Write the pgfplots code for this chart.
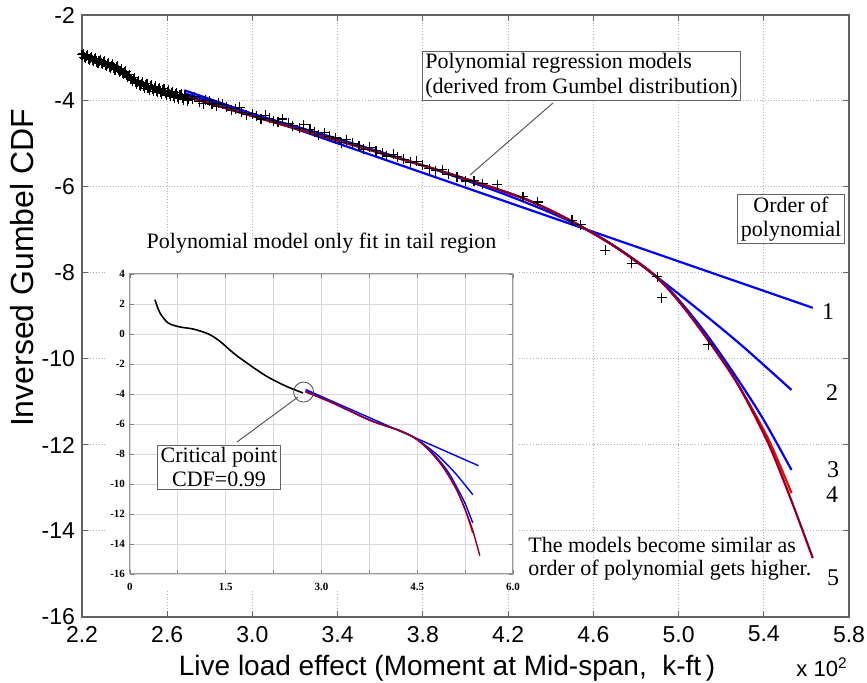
\documentclass[border=0pt]{standalone}
\usepackage{pgfplots}
\pgfplotsset{compat=1.18}
\usepackage{fontspec}
\setmainfont{Liberation Serif}
\setsansfont{Liberation Sans}
\newfontfamily\arial{Liberation Sans}
\definecolor{maroon}{RGB}{135,0,45}
\definecolor{framegray}{RGB}{100,100,100}

\pgfplotstableread{
x y
2.20 -2.92
2.21 -2.98
2.22 -2.95
2.23 -3.02
2.24 -2.99
2.25 -3.05
2.26 -3.03
2.27 -3.10
2.28 -3.06
2.29 -3.12
2.30 -3.10
2.31 -3.16
2.32 -3.13
2.33 -3.20
2.34 -3.18
2.35 -3.24
2.36 -3.22
2.37 -3.29
2.38 -3.30
2.39 -3.34
2.40 -3.33
2.41 -3.40
2.42 -3.43
2.43 -3.48
2.44 -3.50
2.45 -3.55
2.46 -3.57
2.47 -3.62
2.48 -3.60
2.49 -3.66
2.50 -3.63
2.51 -3.70
2.52 -3.66
2.53 -3.72
2.54 -3.69
2.55 -3.76
2.56 -3.73
2.57 -3.79
2.58 -3.75
2.59 -3.82
2.60 -3.78
2.61 -3.84
2.62 -3.81
2.63 -3.88
2.64 -3.84
2.65 -3.90
2.66 -3.87
2.67 -3.93
2.68 -3.89
2.70 -3.96
2.205 -2.90
2.215 -3.00
2.225 -2.93
2.235 -3.04
2.245 -2.97
2.255 -3.08
2.265 -3.01
2.275 -3.12
2.285 -3.04
2.295 -3.15
2.305 -3.08
2.315 -3.19
2.325 -3.11
2.335 -3.23
2.345 -3.15
2.355 -3.27
2.365 -3.19
2.375 -3.32
2.385 -3.25
2.395 -3.38
2.405 -3.31
2.415 -3.45
2.425 -3.39
2.435 -3.53
2.445 -3.46
2.455 -3.60
2.465 -3.53
2.475 -3.65
2.485 -3.57
2.495 -3.70
2.505 -3.60
2.515 -3.74
2.525 -3.63
2.535 -3.77
2.545 -3.66
2.555 -3.80
2.565 -3.70
2.575 -3.83
2.585 -3.72
2.595 -3.86
2.605 -3.75
2.615 -3.89
2.625 -3.78
2.635 -3.92
2.645 -3.81
2.655 -3.95
2.665 -3.84
2.675 -3.97
2.685 -3.86
2.695 -3.99
2.72 -3.95
2.73 -3.90
2.75 -4.02
2.77 -4.06
2.78 -3.98
2.80 -3.99
2.81 -4.07
2.83 -4.12
2.84 -4.05
2.86 -4.08
2.88 -4.15
2.90 -4.22
2.92 -4.18
2.94 -4.15
2.95 -4.26
2.97 -4.32
3.00 -4.30
3.02 -4.36
3.04 -4.42
3.06 -4.33
3.08 -4.40
3.10 -4.46
3.12 -4.50
3.14 -4.42
3.17 -4.52
3.19 -4.58
3.22 -4.63
3.24 -4.55
3.27 -4.66
3.29 -4.72
3.31 -4.78
3.34 -4.74
3.36 -4.82
3.39 -4.86
3.42 -4.97
3.44 -4.90
3.47 -4.98
3.50 -5.04
3.52 -5.12
3.55 -5.08
3.58 -5.16
3.61 -5.22
3.63 -5.28
3.66 -5.24
3.68 -5.30
3.71 -5.36
3.74 -5.43
3.77 -5.40
3.80 -5.50
3.83 -5.58
3.86 -5.62
3.89 -5.60
3.92 -5.70
3.96 -5.76
4.00 -5.86
4.04 -5.85
4.08 -5.92
4.15 -5.95
4.27 -6.23
4.34 -6.35
4.50 -6.77
4.54 -6.88
4.655 -7.47
4.78 -7.77
4.90 -8.09
4.92 -8.58
5.14 -9.67
}\obsdata

\pgfplotstableread{
x y
2.68 -3.75
5.63 -8.81
}\ordone

\pgfplotstableread{
x y
2.68 -3.82
3.00 -4.30
3.40 -4.88
3.80 -5.50
4.20 -6.20
4.50 -6.82
4.70 -7.38
4.90 -8.10
5.10 -8.88
5.30 -9.70
5.53 -10.72
}\ordtwo

\pgfplotstableread{
x y
2.68 -3.88
3.00 -4.35
3.40 -4.92
3.80 -5.50
4.10 -5.97
4.30 -6.32
4.50 -6.80
4.70 -7.38
4.88 -8.02
5.00 -8.62
5.13 -9.42
5.275 -10.45
5.40 -11.42
5.53 -12.58
}\ordthree

\pgfplotstableread{
x y
2.68 -3.88
3.00 -4.35
3.40 -4.92
3.80 -5.50
4.10 -5.97
4.30 -6.32
4.50 -6.80
4.70 -7.38
4.88 -8.02
5.00 -8.65
5.13 -9.50
5.275 -10.56
5.42 -11.85
5.53 -13.12
}\ordfour

\pgfplotstableread{
x y
2.68 -3.88
3.00 -4.35
3.40 -4.92
3.80 -5.50
4.10 -5.97
4.30 -6.32
4.50 -6.80
4.70 -7.38
4.88 -8.02
5.00 -8.65
5.13 -9.50
5.275 -10.56
5.42 -11.95
5.53 -13.30
5.63 -14.63
}\ordfive

\begin{document}
\begin{tikzpicture}
\useasboundingbox (-41pt,-33pt) rectangle (392.5pt,308.5pt);
\begin{axis}[
  at={(0,0)}, anchor=south west,
  scale only axis, width=383.5pt, height=301pt,
  xmin=2.2, xmax=5.8, ymin=-16, ymax=-2,
  xtick={2.2,2.6,3.0,3.4,3.8,4.2,4.6,5.0,5.4,5.8},
  xticklabels={2.2,2.6,3.0,3.4,3.8,4.2,4.6,5.0,5.4,5.8},
  ytick={-16,-14,-12,-10,-8,-6,-4,-2},
  yticklabels={-16,-14,-12,-10,-8,-6,-4,-2},
  tick label style={font=\arial\fontsize{11.5}{12}\selectfont},
  xticklabel style={yshift=-1pt},
  grid=major, grid style={densely dotted, gray!60, line width=0.5pt},
  tick align=inside, major tick length=3pt,
  tick style={framegray, line width=0.5pt},
  axis line style={framegray, line width=0.7pt},
  xlabel={Live load effect (Moment at Mid-span,\ \ k-ft\,)},
  xlabel style={font=\arial\fontsize{14}{16}\selectfont, at={(axis description cs:0.476,-0.085)}, anchor=center},
  ylabel={Inversed Gumbel CDF},
  ylabel style={font=\arial\fontsize{16}{18}\selectfont, at={(axis description cs:-0.078,0.58)}, anchor=center},
]
\addplot[black, only marks, mark=+, mark size=2.5pt, line width=0.55pt] table {\obsdata};
\addplot[blue, line width=1.1pt] table {\ordone};
\addplot[blue, line width=1.1pt, smooth] table {\ordtwo};
\addplot[blue, line width=1.1pt, smooth] table {\ordthree};
\addplot[red, line width=1.1pt, smooth] table {\ordfour};
\addplot[maroon, line width=1.1pt, smooth] table {\ordfive};
\end{axis}

% white panel behind inset
\fill[white] (12.5pt,13.5pt) rectangle (218pt,188.5pt);

\begin{axis}[
  at={(24pt,21.5pt)}, anchor=south west,
  scale only axis, width=191.5pt, height=150pt,
  xmin=0, xmax=6, ymin=-16, ymax=4,
  xtick={0,1.5,3,4.5,6},
  xticklabels={0,1.5,3.0,4.5,6.0},
  minor xtick={0.75,2.25,3.75,5.25},
  ytick={-16,-14,-12,-10,-8,-6,-4,-2,0,2,4},
  yticklabels={-16,-14,-12,-10,-8,-6,-4,-2,0,2,4},
  tick label style={font=\bfseries\fontsize{5.5}{6}\selectfont},
  xticklabel style={yshift=-1pt},
  yticklabel style={xshift=1pt},
  grid=both, grid style={gray!30, line width=0.4pt},
  minor grid style={gray!30, line width=0.4pt},
  tick align=inside, major tick length=2pt, minor tick length=2pt,
  tick style={gray, line width=0.4pt},
  axis line style={gray!80, line width=0.5pt},
  axis background/.style={fill=white},
  title={Polynomial model only fit in tail region},
  title style={font=\fontsize{11}{12}\selectfont, at={(axis description cs:0.5,1)}, anchor=center, yshift=9.5pt},
]
\addplot[black, line width=0.8pt, smooth] coordinates {
(0.39,2.29) (0.47,1.4) (0.6,0.73) (0.78,0.47) (0.99,0.33) (1.23,0.0) (1.41,-0.49) (1.62,-1.27) (1.83,-1.93) (2.14,-2.82) (2.45,-3.49) (2.71,-3.93)};
\addplot[blue, line width=0.7pt] coordinates {(2.75,-3.7) (5.46,-8.78)};
\addplot[blue, line width=0.7pt, smooth] coordinates {(2.75,-3.8) (3.18,-4.6) (3.76,-5.75) (4.2,-6.4) (4.45,-6.9) (4.65,-7.5) (4.85,-8.2) (5.1,-9.3) (5.37,-10.71)};
\addplot[blue, line width=0.7pt, smooth] coordinates {(2.75,-3.85) (3.18,-4.6) (3.76,-5.75) (4.2,-6.4) (4.45,-6.9) (4.65,-7.55) (4.85,-8.45) (5.0,-9.3) (5.13,-10.3) (5.25,-11.3) (5.37,-12.6)};
\addplot[red, line width=0.7pt, smooth] coordinates {(2.75,-3.85) (3.18,-4.6) (3.76,-5.75) (4.2,-6.4) (4.45,-6.9) (4.65,-7.6) (4.85,-8.55) (5.0,-9.5) (5.13,-10.5) (5.25,-11.7) (5.37,-13.27)};
\addplot[maroon, line width=0.7pt, smooth] coordinates {(2.75,-3.85) (3.18,-4.6) (3.76,-5.75) (4.2,-6.4) (4.45,-6.9) (4.65,-7.6) (4.85,-8.55) (5.0,-9.5) (5.13,-10.5) (5.25,-11.7) (5.37,-13.1) (5.48,-14.78)};
\addplot[black!70, only marks, mark=o, mark size=5pt, line width=0.4pt] coordinates {(2.72,-3.87)};
\end{axis}

% annotations
\draw[gray!70!black, line width=0.5pt] (235.5pt,257pt) -- (194pt,221pt);
\node[draw=framegray, fill=white, line width=0.5pt, align=left, inner xsep=1.5pt, inner ysep=1pt,
      font=\fontsize{11}{12.5}\selectfont] at (249.75pt,270.5pt)
  {Polynomial regression models\\(derived from Gumbel distribution)};
\node[draw=framegray, fill=white, line width=0.5pt, align=center, inner xsep=1.5pt, inner ysep=1pt,
      font=\fontsize{11}{12}\selectfont] at (354.5pt,199pt) {Order of\\polynomial};
\begin{scope}[font=\fontsize{12}{13}\selectfont]
\node at (373pt,152.5pt) {1};
\node at (375pt,112pt) {2};
\node at (375.5pt,73.5pt) {3};
\node at (375pt,61pt) {4};
\node at (375.5pt,19.5pt) {5};
\end{scope}
\node[anchor=west, align=left, inner sep=0pt, font=\fontsize{11}{11.5}\selectfont] at (223pt,29.25pt)
  {The models become similar as\\order of polynomial gets higher.};
\draw[gray!70!black, line width=0.5pt] (77.5pt,87.5pt) -- (108pt,110pt);
\node[draw=framegray, fill=white, line width=0.5pt, align=center, inner xsep=1.5pt, inner ysep=1pt,
      font=\fontsize{11}{12}\selectfont] at (68.5pt,74.75pt) {Critical point\\CDF=0.99};
\node[font=\arial\fontsize{11}{12}\selectfont] at (370pt,-25pt) {x 10\textsuperscript{2}};
\end{tikzpicture}
\end{document}
